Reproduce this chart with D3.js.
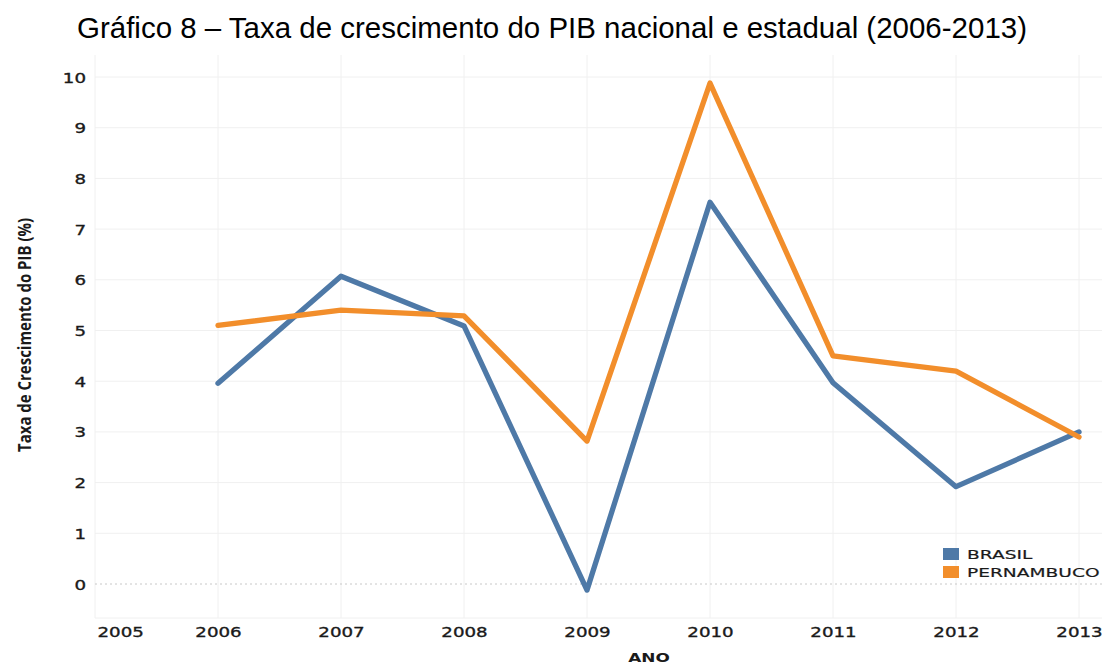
<!DOCTYPE html>
<html><head><meta charset="utf-8">
<script src="https://cdn.jsdelivr.net/npm/d3@7"></script>
<style>body{margin:0;background:#fff}</style>
</head><body>
<svg id="c" width="1104" height="664"></svg>
<script>
const years = [2006, 2007, 2008, 2009, 2010, 2011, 2012, 2013];
const xTicks = [2005, 2006, 2007, 2008, 2009, 2010, 2011, 2012, 2013];
const yTicks = [0, 1, 2, 3, 4, 5, 6, 7, 8, 9, 10];
const brasil = [3.96, 6.07, 5.09, -0.12, 7.53, 3.97, 1.92, 3.0];
const pernambuco = [5.1, 5.4, 5.29, 2.82, 9.88, 4.5, 4.2, 2.9];
const seriesNames = ["BRASIL", "PERNAMBUCO"];
const colors = ["#4e79a7", "#f28e2b"];

const svg = d3.select("#c");
const x = d3.scaleLinear().domain([2005, 2013]).range([95, 1079]);
const y = d3.scaleLinear().domain([0, 10]).range([584, 77]);
const plotTop = 55, plotBottom = 618, plotLeft = 95, plotRight = 1102;

function stretch(sel, f) {
  sel.each(function () {
    const w = this.getComputedTextLength();
    d3.select(this).attr("textLength", w * f).attr("lengthAdjust", "spacingAndGlyphs");
  });
}

// title
svg.append("text").attr("x", 552).attr("y", 38).attr("text-anchor", "middle")
  .attr("font-family", "Liberation Sans, Arial, sans-serif").attr("font-size", 30)
  .attr("fill", "#000").attr("textLength", 950).attr("lengthAdjust", "spacingAndGlyphs")
  .text("Gráfico 8 – Taxa de crescimento do PIB nacional e estadual (2006-2013)");

// gridlines
const g = svg.append("g");
g.selectAll("line.h").data(yTicks.filter(d => d !== 0)).enter().append("line")
  .attr("x1", plotLeft).attr("x2", plotRight).attr("y1", d => y(d)).attr("y2", d => y(d))
  .attr("stroke", "#f0f0f0").attr("stroke-width", 1);
g.append("line").attr("x1", plotLeft).attr("x2", plotRight).attr("y1", plotBottom).attr("y2", plotBottom)
  .attr("stroke", "#f0f0f0");
g.selectAll("line.v").data(xTicks).enter().append("line")
  .attr("x1", d => x(d)).attr("x2", d => x(d)).attr("y1", plotTop).attr("y2", plotBottom)
  .attr("stroke", "#f0f0f0").attr("stroke-width", 1);
g.append("line").attr("x1", plotLeft).attr("x2", plotRight).attr("y1", y(0)).attr("y2", y(0))
  .attr("stroke", "#c8c8c8").attr("stroke-dasharray", "2,3");

// y axis labels
const yAxis = d3.axisLeft(y).tickValues(yTicks).tickSize(0).tickPadding(0);
const ya = svg.append("g").attr("transform", "translate(86,0)").call(yAxis);
ya.select(".domain").remove();
ya.selectAll("text").attr("font-family", "DejaVu Sans, sans-serif").attr("font-size", 14)
  .attr("fill", "#1a1a1a").attr("stroke", "#1a1a1a").attr("stroke-width", 0.35).attr("dy", "0.36em")
  .call(stretch, 1.3);

// x axis labels
const xAxis = d3.axisBottom(x).tickValues(xTicks).tickFormat(d3.format("d")).tickSize(0).tickPadding(0);
const xa = svg.append("g").attr("transform", "translate(0,627)").call(xAxis);
xa.select(".domain").remove();
xa.selectAll("text").attr("font-family", "DejaVu Sans, sans-serif").attr("font-size", 14)
  .attr("fill", "#1a1a1a").attr("stroke", "#1a1a1a").attr("stroke-width", 0.35).attr("dy", "0.71em")
  .attr("text-anchor", d => d === 2005 ? "start" : "middle")
  .attr("x", d => d === 2005 ? 2 : 0)
  .call(stretch, 1.3);

// axis titles
svg.append("text").attr("transform", "translate(31,335) rotate(-90)").attr("text-anchor", "middle")
  .attr("font-family", "Open Sans, sans-serif").attr("font-weight", "bold").attr("font-size", 18)
  .attr("fill", "#1a1a1a").attr("textLength", 234).attr("lengthAdjust", "spacingAndGlyphs")
  .text("Taxa de Crescimento do PIB (%)");
svg.append("text").attr("x", 649).attr("y", 662).attr("text-anchor", "middle")
  .attr("font-family", "DejaVu Sans, sans-serif").attr("font-weight", "bold").attr("font-size", 13)
  .attr("fill", "#1a1a1a").text("ANO").call(stretch, 1.3);

// lines
const data = [brasil, pernambuco];
const line = d3.line().x((d, i) => x(years[i])).y(d => y(d));
svg.selectAll("path.s").data(data).enter().append("path")
  .attr("d", d => line(d)).attr("fill", "none")
  .attr("stroke", (d, i) => colors[i]).attr("stroke-width", 5.3)
  .attr("stroke-linejoin", "round").attr("stroke-linecap", "round");

// legend
const lg = svg.append("g");
seriesNames.forEach((n, i) => {
  lg.append("rect").attr("x", 943).attr("y", 548 + i * 18).attr("width", 16).attr("height", 12)
    .attr("fill", colors[i]);
  lg.append("text").attr("x", 967).attr("y", 559 + i * 18)
    .attr("font-family", "DejaVu Sans, sans-serif").attr("font-size", 13).attr("fill", "#1a1a1a")
    .attr("stroke", "#1a1a1a").attr("stroke-width", 0.2)
    .text(n).call(stretch, 1.43);
});
</script>
</body></html>
